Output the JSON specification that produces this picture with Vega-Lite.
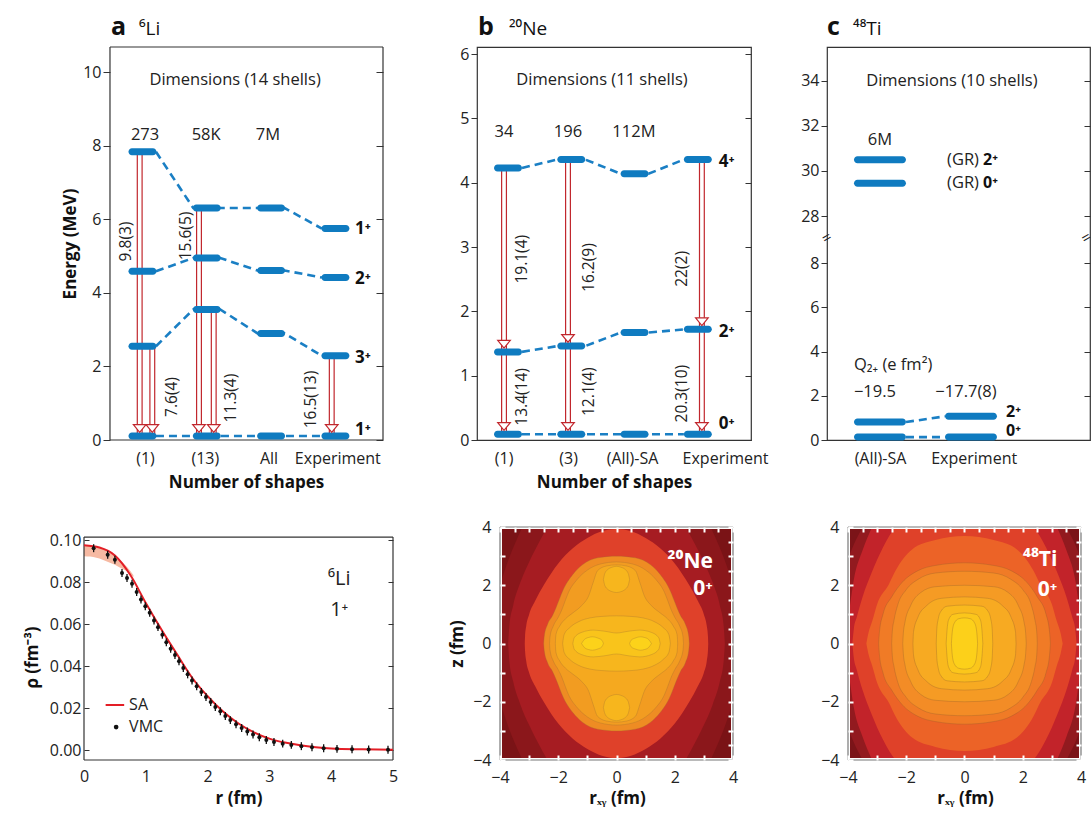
{
"$schema":"https://vega.github.io/schema/vega-lite/v6.json",
"background":"white",
"padding":{"left":23,"top":14,"right":0,"bottom":6},
"config":{"font":"Open Sans","view":{"stroke":null},"axis":{"labelFontSize":16,"labelColor":"#222","titleFontSize":17,"titleFontWeight":"bold","titleColor":"#111","grid":false,"domain":false,"tickColor":"#333","labelFlush":false,"labelOverlap":false}},
"datasets":{
"connA":[{"s":"u1","x":1.21,"y":7.84},{"s":"u1","x":1.79,"y":6.31},{"s":"u1","x":2.21,"y":6.31},{"s":"u1","x":2.79,"y":6.31},{"s":"u1","x":3.21,"y":6.31},{"s":"u1","x":3.79,"y":5.75},
{"s":"u2","x":1.21,"y":4.59},{"s":"u2","x":1.79,"y":4.95},{"s":"u2","x":2.21,"y":4.95},{"s":"u2","x":2.79,"y":4.61},{"s":"u2","x":3.21,"y":4.61},{"s":"u2","x":3.79,"y":4.42},
{"s":"u3","x":1.21,"y":2.55},{"s":"u3","x":1.79,"y":3.55},{"s":"u3","x":2.21,"y":3.55},{"s":"u3","x":2.79,"y":2.9},{"s":"u3","x":3.21,"y":2.9},{"s":"u3","x":3.79,"y":2.29},
{"s":"g","x":1.21,"y":0.11},{"s":"g","x":1.79,"y":0.11},{"s":"g","x":2.21,"y":0.11},{"s":"g","x":2.79,"y":0.11},{"s":"g","x":3.21,"y":0.11},{"s":"g","x":3.79,"y":0.11}],
"levA":[{"x":1,"y":7.84},{"x":2,"y":6.31},{"x":3,"y":6.31},{"x":4,"y":5.75},{"x":1,"y":4.59},{"x":2,"y":4.95},{"x":3,"y":4.61},{"x":4,"y":4.42},{"x":1,"y":2.55},{"x":2,"y":3.55},{"x":3,"y":2.9},{"x":4,"y":2.29},{"x":1,"y":0.11},{"x":2,"y":0.11},{"x":3,"y":0.11},{"x":4,"y":0.11}],
"arrA":[{"x":0.957,"y":7.84,"y2":0.11,"tip":0.21},{"x":1.153,"y":2.55,"y2":0.11,"tip":0.21},{"x":1.879,"y":6.31,"y2":0.11,"tip":0.21},{"x":2.108,"y":3.55,"y2":0.11,"tip":0.21},{"x":3.943,"y":2.29,"y2":0.11,"tip":0.21}],
"lblA":[{"x":0.739,"y":5.4,"t":"9.8(3)"},{"x":1.672,"y":5.55,"t":"15.6(5)"},{"x":1.459,"y":1.17,"t":"7.6(4)"},{"x":2.372,"y":1.14,"t":"11.3(4)"},{"x":3.621,"y":1.1,"t":"16.5(13)"}],
"txtA":[{"x":1.04,"y":8.3,"t":"273"},{"x":1.99,"y":8.3,"t":"58K"},{"x":2.95,"y":8.3,"t":"7M"},{"x":2.44,"y":9.8,"t":"Dimensions (14 shells)"}],
"stA":[{"x":4.305,"y":5.75,"t":"1⁺"},{"x":4.305,"y":4.38,"t":"2⁺"},{"x":4.305,"y":2.22,"t":"3⁺"},{"x":4.305,"y":0.27,"t":"1⁺"}],
"frameA":[{"x":0.495,"x2":0.495,"y":0,"y2":10.69},{"x":4.74,"x2":4.74,"y":0,"y2":10.69},{"x":0.495,"x2":4.74,"y":0,"y2":0},{"x":0.495,"x2":4.74,"y":10.69,"y2":10.69}],
"connB":[{"s":"u4","x":1.221,"y":4.23},{"s":"u4","x":1.779,"y":4.36},{"s":"u4","x":2.221,"y":4.36},{"s":"u4","x":2.779,"y":4.14},{"s":"u4","x":3.221,"y":4.14},{"s":"u4","x":3.779,"y":4.36},
{"s":"u2","x":1.221,"y":1.37},{"s":"u2","x":1.779,"y":1.46},{"s":"u2","x":2.221,"y":1.46},{"s":"u2","x":2.779,"y":1.67},{"s":"u2","x":3.221,"y":1.67},{"s":"u2","x":3.779,"y":1.72},
{"s":"g","x":1.221,"y":0.09},{"s":"g","x":1.779,"y":0.09},{"s":"g","x":2.221,"y":0.09},{"s":"g","x":2.779,"y":0.09},{"s":"g","x":3.221,"y":0.09},{"s":"g","x":3.779,"y":0.09}],
"levB":[{"x":1,"y":4.23},{"x":2,"y":4.36},{"x":3,"y":4.14},{"x":4,"y":4.36},{"x":1,"y":1.37},{"x":2,"y":1.46},{"x":3,"y":1.67},{"x":4,"y":1.72},{"x":1,"y":0.09},{"x":2,"y":0.09},{"x":3,"y":0.09},{"x":4,"y":0.09}],
"arrB":[{"x":0.937,"y":4.23,"y2":1.37,"tip":1.43},{"x":0.937,"y":1.37,"y2":0.09,"tip":0.15},{"x":1.948,"y":4.36,"y2":1.46,"tip":1.52},{"x":1.948,"y":1.46,"y2":0.09,"tip":0.15},{"x":4.064,"y":4.36,"y2":1.72,"tip":1.78},{"x":4.064,"y":1.72,"y2":0.09,"tip":0.15}],
"lblB":[{"x":1.221,"y":2.81,"t":"19.1(4)"},{"x":2.279,"y":2.68,"t":"16.2(9)"},{"x":3.749,"y":2.66,"t":"22(2)"},{"x":1.221,"y":0.67,"t":"13.4(14)"},{"x":2.279,"y":0.75,"t":"12.1(4)"},{"x":3.749,"y":0.72,"t":"20.3(10)"}],
"txtB":[{"x":0.937,"y":4.79,"t":"34"},{"x":1.948,"y":4.79,"t":"196"},{"x":2.99,"y":4.79,"t":"112M"},{"x":2.485,"y":5.6,"t":"Dimensions (11 shells)"}],
"stB":[{"x":4.33,"y":4.32,"t":"4⁺"},{"x":4.33,"y":1.68,"t":"2⁺"},{"x":4.33,"y":0.25,"t":"0⁺"}],
"connC":[{"s":"u","x":1.286,"y":0.81},{"s":"u","x":1.714,"y":1.07},{"s":"g","x":1.286,"y":0.13},{"s":"g","x":1.714,"y":0.13}],
"levC":[{"x":1,"y":30.5},{"x":1,"y":29.45},{"x":1,"y":0.81},{"x":1,"y":0.13},{"x":2,"y":1.07},{"x":2,"y":0.13}],
"txtC":[{"x":1,"y":31.38,"t":"6M"},{"x":1.79,"y":34,"t":"Dimensions (10 shells)"},{"x":0.945,"y":2.17,"t":"−19.5"},{"x":1.945,"y":2.17,"t":"−17.7(8)"}],
"regC":[{"x":1.737,"y":30.5,"t":"(GR)"},{"x":1.737,"y":29.45,"t":"(GR)"},{"x":0.715,"y":3.39,"t":"Q₂₊ (e fm²)"}],
"stC":[{"x":2.132,"y":30.5,"t":"2⁺"},{"x":2.132,"y":29.45,"t":"0⁺"},{"x":2.385,"y":1.27,"t":"2⁺"},{"x":2.385,"y":0.42,"t":"0⁺"}],
"band":[{"x":0,"y":0.0925,"y2":0.0978},{"x":0.1,"y":0.0923,"y2":0.0976},{"x":0.2,"y":0.0917,"y2":0.097},{"x":0.3,"y":0.0908,"y2":0.0959},{"x":0.4,"y":0.0896,"y2":0.0944},{"x":0.5,"y":0.0884,"y2":0.0926},{"x":0.6,"y":0.0868,"y2":0.0902},{"x":0.7,"y":0.0852,"y2":0.0872},{"x":0.8,"y":0.0826,"y2":0.0834}],
"sa":[{"x":0,"y":0.0977},{"x":0.25,"y":0.0966},{"x":0.5,"y":0.0928},{"x":0.75,"y":0.0835},{"x":1,"y":0.0702},{"x":1.25,"y":0.0577},{"x":1.5,"y":0.046},{"x":1.75,"y":0.0346},{"x":2,"y":0.0258},{"x":2.25,"y":0.0185},{"x":2.5,"y":0.0128},{"x":2.75,"y":0.0086},{"x":3,"y":0.0056},{"x":3.25,"y":0.0037},{"x":3.5,"y":0.0024},{"x":3.75,"y":0.0015},{"x":4,"y":0.0009},{"x":4.5,"y":0.0005},{"x":5,"y":0.0003}],
"vmc":[{"x":0.156,"y":0.0963,"e":0.0019},{"x":0.383,"y":0.0932,"e":0.0019},{"x":0.5,"y":0.0908,"e":0.0019},{"x":0.615,"y":0.0845,"e":0.0019},{"x":0.696,"y":0.0821,"e":0.0019},{"x":0.777,"y":0.0794,"e":0.0019},{"x":0.852,"y":0.0754,"e":0.0019},{"x":0.922,"y":0.0719,"e":0.0019},{"x":0.992,"y":0.0686,"e":0.0019},{"x":1.063,"y":0.0655,"e":0.0019},{"x":1.133,"y":0.0619,"e":0.0019},{"x":1.197,"y":0.0587,"e":0.0019},{"x":1.268,"y":0.0551,"e":0.0019},{"x":1.332,"y":0.0515,"e":0.0019},{"x":1.402,"y":0.0484,"e":0.0019},{"x":1.472,"y":0.0454,"e":0.0019},{"x":1.537,"y":0.0424,"e":0.0019},{"x":1.607,"y":0.0392,"e":0.0019},{"x":1.677,"y":0.0362,"e":0.0019},{"x":1.748,"y":0.0333,"e":0.0019},{"x":1.823,"y":0.0305,"e":0.0019},{"x":1.899,"y":0.0278,"e":0.0019},{"x":1.974,"y":0.0254,"e":0.0019},{"x":2.05,"y":0.023,"e":0.0019},{"x":2.125,"y":0.0207,"e":0.0019},{"x":2.206,"y":0.0186,"e":0.0019},{"x":2.287,"y":0.0164,"e":0.0019},{"x":2.368,"y":0.0144,"e":0.0019},{"x":2.46,"y":0.0124,"e":0.0019},{"x":2.551,"y":0.0106,"e":0.0019},{"x":2.643,"y":0.009,"e":0.0019},{"x":2.735,"y":0.0076,"e":0.0019},{"x":2.837,"y":0.0062,"e":0.0019},{"x":2.95,"y":0.0049,"e":0.0019},{"x":3.074,"y":0.004,"e":0.0019},{"x":3.215,"y":0.0032,"e":0.0019},{"x":3.355,"y":0.0026,"e":0.0019},{"x":3.517,"y":0.002,"e":0.0019},{"x":3.689,"y":0.0015,"e":0.0019},{"x":3.878,"y":0.001,"e":0.0019},{"x":4.094,"y":0.0007,"e":0.0019},{"x":4.337,"y":0.0005,"e":0.0019},{"x":4.606,"y":0.0004,"e":0.0019},{"x":4.919,"y":0.0003,"e":0.0019}],
"frameD":[{"x":0,"x2":0,"y":-0.0046,"y2":0.1016},{"x":5,"x2":5,"y":-0.0046,"y2":0.1016},{"x":0,"x2":5,"y":-0.0046,"y2":-0.0046},{"x":0,"x2":5,"y":0.1016,"y2":0.1016}],
"sq":[{"x":-4,"x2":4,"y":-4,"y2":4}],
"frameSq":[{"x":-4,"x2":-4,"y":-4,"y2":4},{"x":4,"x2":4,"y":-4,"y2":4},{"x":-4,"x2":4,"y":-4,"y2":-4},{"x":-4,"x2":4,"y":4,"y2":4}],
"contE":[
{"p":"a2","l":11,"x":-4,"y":2,"y2":-2},{"p":"a2","l":11,"x":-3.7,"y":2.9,"y2":-2.9},{"p":"a2","l":11,"x":-3.5,"y":3.4,"y2":-3.4},{"p":"a2","l":11,"x":-3.23,"y":4,"y2":-4},{"p":"a2","l":11,"x":-2.9,"y":4.6,"y2":-4.6},{"p":"a2","l":11,"x":-2.5,"y":5,"y2":-5},{"p":"a2","l":11,"x":0,"y":5.2,"y2":-5.2},{"p":"a2","l":11,"x":2.5,"y":5,"y2":-5},{"p":"a2","l":11,"x":2.9,"y":4.6,"y2":-4.6},{"p":"a2","l":11,"x":3.23,"y":4,"y2":-4},{"p":"a2","l":11,"x":3.5,"y":3.4,"y2":-3.4},{"p":"a2","l":11,"x":3.7,"y":2.9,"y2":-2.9},{"p":"a2","l":11,"x":4,"y":2,"y2":-2},
{"p":"a3","l":12,"x":-3.72,"y":0,"y2":0},{"p":"a3","l":12,"x":-3.68,"y":0.6,"y2":-0.6},{"p":"a3","l":12,"x":-3.55,"y":1.3,"y2":-1.3},{"p":"a3","l":12,"x":-3.3,"y":2.1,"y2":-2.1},{"p":"a3","l":12,"x":-3,"y":2.8,"y2":-2.8},{"p":"a3","l":12,"x":-2.7,"y":3.4,"y2":-3.4},{"p":"a3","l":12,"x":-2.37,"y":4,"y2":-4},{"p":"a3","l":12,"x":-2,"y":4.6,"y2":-4.6},{"p":"a3","l":12,"x":0,"y":5,"y2":-5},{"p":"a3","l":12,"x":2,"y":4.6,"y2":-4.6},{"p":"a3","l":12,"x":2.37,"y":4,"y2":-4},{"p":"a3","l":12,"x":2.7,"y":3.4,"y2":-3.4},{"p":"a3","l":12,"x":3,"y":2.8,"y2":-2.8},{"p":"a3","l":12,"x":3.3,"y":2.1,"y2":-2.1},{"p":"a3","l":12,"x":3.55,"y":1.3,"y2":-1.3},{"p":"a3","l":12,"x":3.68,"y":0.6,"y2":-0.6},{"p":"a3","l":12,"x":3.72,"y":0,"y2":0},
{"p":"a4","l":13,"x":-3.15,"y":0,"y2":0},{"p":"a4","l":13,"x":-3.14,"y":0.25,"y2":-0.25},{"p":"a4","l":13,"x":-3.1,"y":0.6,"y2":-0.6},{"p":"a4","l":13,"x":-3,"y":1,"y2":-1},{"p":"a4","l":13,"x":-2.8,"y":1.45,"y2":-1.45},{"p":"a4","l":13,"x":-2.5,"y":2,"y2":-2},{"p":"a4","l":13,"x":-2,"y":2.75,"y2":-2.75},{"p":"a4","l":13,"x":-1.5,"y":3.27,"y2":-3.27},{"p":"a4","l":13,"x":-1,"y":3.62,"y2":-3.62},{"p":"a4","l":13,"x":-0.5,"y":3.85,"y2":-3.85},{"p":"a4","l":13,"x":0,"y":3.93,"y2":-3.93},{"p":"a4","l":13,"x":0.5,"y":3.85,"y2":-3.85},{"p":"a4","l":13,"x":1,"y":3.62,"y2":-3.62},{"p":"a4","l":13,"x":1.5,"y":3.27,"y2":-3.27},{"p":"a4","l":13,"x":2,"y":2.75,"y2":-2.75},{"p":"a4","l":13,"x":2.5,"y":2,"y2":-2},{"p":"a4","l":13,"x":2.8,"y":1.45,"y2":-1.45},{"p":"a4","l":13,"x":3,"y":1,"y2":-1},{"p":"a4","l":13,"x":3.1,"y":0.6,"y2":-0.6},{"p":"a4","l":13,"x":3.14,"y":0.25,"y2":-0.25},{"p":"a4","l":13,"x":3.15,"y":0,"y2":0},
{"p":"a5","l":14,"x":-2.5,"y":0,"y2":0},{"p":"a5","l":14,"x":-2.48,"y":0.25,"y2":-0.25},{"p":"a5","l":14,"x":-2.37,"y":0.65,"y2":-0.65},{"p":"a5","l":14,"x":-2.2,"y":0.95,"y2":-0.95},{"p":"a5","l":14,"x":-2.08,"y":1.22,"y2":-1.22},{"p":"a5","l":14,"x":-1.95,"y":1.55,"y2":-1.55},{"p":"a5","l":14,"x":-1.85,"y":1.8,"y2":-1.8},{"p":"a5","l":14,"x":-1.5,"y":2.37,"y2":-2.37},{"p":"a5","l":14,"x":-1.16,"y":2.71,"y2":-2.71},{"p":"a5","l":14,"x":-0.65,"y":2.94,"y2":-2.94},{"p":"a5","l":14,"x":0,"y":3,"y2":-3},{"p":"a5","l":14,"x":0.65,"y":2.94,"y2":-2.94},{"p":"a5","l":14,"x":1.16,"y":2.71,"y2":-2.71},{"p":"a5","l":14,"x":1.5,"y":2.37,"y2":-2.37},{"p":"a5","l":14,"x":1.85,"y":1.8,"y2":-1.8},{"p":"a5","l":14,"x":1.95,"y":1.55,"y2":-1.55},{"p":"a5","l":14,"x":2.08,"y":1.22,"y2":-1.22},{"p":"a5","l":14,"x":2.2,"y":0.95,"y2":-0.95},{"p":"a5","l":14,"x":2.37,"y":0.65,"y2":-0.65},{"p":"a5","l":14,"x":2.48,"y":0.25,"y2":-0.25},{"p":"a5","l":14,"x":2.5,"y":0,"y2":0},
{"p":"a6","l":15,"x":-2.3,"y":0,"y2":0},{"p":"a6","l":15,"x":-2.28,"y":0.25,"y2":-0.25},{"p":"a6","l":15,"x":-2.17,"y":0.6,"y2":-0.6},{"p":"a6","l":15,"x":-2,"y":0.9,"y2":-0.9},{"p":"a6","l":15,"x":-1.88,"y":1.15,"y2":-1.15},{"p":"a6","l":15,"x":-1.75,"y":1.5,"y2":-1.5},{"p":"a6","l":15,"x":-1.65,"y":1.75,"y2":-1.75},{"p":"a6","l":15,"x":-1.35,"y":2.2,"y2":-2.2},{"p":"a6","l":15,"x":-1,"y":2.52,"y2":-2.52},{"p":"a6","l":15,"x":-0.55,"y":2.73,"y2":-2.73},{"p":"a6","l":15,"x":0,"y":2.8,"y2":-2.8},{"p":"a6","l":15,"x":0.55,"y":2.73,"y2":-2.73},{"p":"a6","l":15,"x":1,"y":2.52,"y2":-2.52},{"p":"a6","l":15,"x":1.35,"y":2.2,"y2":-2.2},{"p":"a6","l":15,"x":1.65,"y":1.75,"y2":-1.75},{"p":"a6","l":15,"x":1.75,"y":1.5,"y2":-1.5},{"p":"a6","l":15,"x":1.88,"y":1.15,"y2":-1.15},{"p":"a6","l":15,"x":2,"y":0.9,"y2":-0.9},{"p":"a6","l":15,"x":2.17,"y":0.6,"y2":-0.6},{"p":"a6","l":15,"x":2.28,"y":0.25,"y2":-0.25},{"p":"a6","l":15,"x":2.3,"y":0,"y2":0},
{"p":"a7","l":16,"x":-2.1,"y":0,"y2":0},{"p":"a7","l":16,"x":-2.08,"y":0.3,"y2":-0.3},{"p":"a7","l":16,"x":-1.95,"y":0.6,"y2":-0.6},{"p":"a7","l":16,"x":-1.75,"y":0.85,"y2":-0.85},{"p":"a7","l":16,"x":-1.5,"y":1.05,"y2":-1.05},{"p":"a7","l":16,"x":-1.2,"y":1.3,"y2":-1.3},{"p":"a7","l":16,"x":-0.95,"y":1.65,"y2":-1.65},{"p":"a7","l":16,"x":-0.8,"y":2.1,"y2":-2.1},{"p":"a7","l":16,"x":-0.65,"y":2.5,"y2":-2.5},{"p":"a7","l":16,"x":-0.35,"y":2.66,"y2":-2.66},{"p":"a7","l":16,"x":0,"y":2.7,"y2":-2.7},{"p":"a7","l":16,"x":0.35,"y":2.66,"y2":-2.66},{"p":"a7","l":16,"x":0.65,"y":2.5,"y2":-2.5},{"p":"a7","l":16,"x":0.8,"y":2.1,"y2":-2.1},{"p":"a7","l":16,"x":0.95,"y":1.65,"y2":-1.65},{"p":"a7","l":16,"x":1.2,"y":1.3,"y2":-1.3},{"p":"a7","l":16,"x":1.5,"y":1.05,"y2":-1.05},{"p":"a7","l":16,"x":1.75,"y":0.85,"y2":-0.85},{"p":"a7","l":16,"x":1.95,"y":0.6,"y2":-0.6},{"p":"a7","l":16,"x":2.08,"y":0.3,"y2":-0.3},{"p":"a7","l":16,"x":2.1,"y":0,"y2":0},
{"p":"a8","l":17,"x":-1.85,"y":0,"y2":0},{"p":"a8","l":17,"x":-1.8,"y":0.3,"y2":-0.3},{"p":"a8","l":17,"x":-1.6,"y":0.55,"y2":-0.55},{"p":"a8","l":17,"x":-1.3,"y":0.75,"y2":-0.75},{"p":"a8","l":17,"x":-0.9,"y":0.88,"y2":-0.88},{"p":"a8","l":17,"x":-0.5,"y":0.93,"y2":-0.93},{"p":"a8","l":17,"x":0,"y":0.95,"y2":-0.95},{"p":"a8","l":17,"x":0.5,"y":0.93,"y2":-0.93},{"p":"a8","l":17,"x":0.9,"y":0.88,"y2":-0.88},{"p":"a8","l":17,"x":1.3,"y":0.75,"y2":-0.75},{"p":"a8","l":17,"x":1.6,"y":0.55,"y2":-0.55},{"p":"a8","l":17,"x":1.8,"y":0.3,"y2":-0.3},{"p":"a8","l":17,"x":1.85,"y":0,"y2":0},
{"p":"a8t","l":17,"x":-0.45,"y":2.2,"y2":2.2},{"p":"a8t","l":17,"x":-0.4,"y":2.41,"y2":1.99},{"p":"a8t","l":17,"x":-0.3,"y":2.54,"y2":1.86},{"p":"a8t","l":17,"x":-0.15,"y":2.62,"y2":1.78},{"p":"a8t","l":17,"x":0,"y":2.65,"y2":1.75},{"p":"a8t","l":17,"x":0.15,"y":2.62,"y2":1.78},{"p":"a8t","l":17,"x":0.3,"y":2.54,"y2":1.86},{"p":"a8t","l":17,"x":0.4,"y":2.41,"y2":1.99},{"p":"a8t","l":17,"x":0.45,"y":2.2,"y2":2.2},
{"p":"a8b","l":17,"x":-0.45,"y":-2.2,"y2":-2.2},{"p":"a8b","l":17,"x":-0.4,"y":-1.99,"y2":-2.41},{"p":"a8b","l":17,"x":-0.3,"y":-1.86,"y2":-2.54},{"p":"a8b","l":17,"x":-0.15,"y":-1.78,"y2":-2.62},{"p":"a8b","l":17,"x":0,"y":-1.75,"y2":-2.65},{"p":"a8b","l":17,"x":0.15,"y":-1.78,"y2":-2.62},{"p":"a8b","l":17,"x":0.3,"y":-1.86,"y2":-2.54},{"p":"a8b","l":17,"x":0.4,"y":-1.99,"y2":-2.41},{"p":"a8b","l":17,"x":0.45,"y":-2.2,"y2":-2.2},
{"p":"a9","l":18,"x":-1.5,"y":0,"y2":0},{"p":"a9","l":18,"x":-1.45,"y":0.2,"y2":-0.2},{"p":"a9","l":18,"x":-1.2,"y":0.38,"y2":-0.38},{"p":"a9","l":18,"x":-0.8,"y":0.46,"y2":-0.46},{"p":"a9","l":18,"x":-0.4,"y":0.42,"y2":-0.42},{"p":"a9","l":18,"x":0,"y":0.36,"y2":-0.36},{"p":"a9","l":18,"x":0.4,"y":0.42,"y2":-0.42},{"p":"a9","l":18,"x":0.8,"y":0.46,"y2":-0.46},{"p":"a9","l":18,"x":1.2,"y":0.38,"y2":-0.38},{"p":"a9","l":18,"x":1.45,"y":0.2,"y2":-0.2},{"p":"a9","l":18,"x":1.5,"y":0,"y2":0},
{"p":"a10l","l":19,"x":-1.2,"y":0,"y2":0},{"p":"a10l","l":19,"x":-1.1,"y":0.14,"y2":-0.14},{"p":"a10l","l":19,"x":-0.95,"y":0.21,"y2":-0.21},{"p":"a10l","l":19,"x":-0.82,"y":0.23,"y2":-0.23},{"p":"a10l","l":19,"x":-0.65,"y":0.19,"y2":-0.19},{"p":"a10l","l":19,"x":-0.5,"y":0.11,"y2":-0.11},{"p":"a10l","l":19,"x":-0.45,"y":0,"y2":0},
{"p":"a10r","l":19,"x":0.45,"y":0,"y2":0},{"p":"a10r","l":19,"x":0.5,"y":0.11,"y2":-0.11},{"p":"a10r","l":19,"x":0.65,"y":0.19,"y2":-0.19},{"p":"a10r","l":19,"x":0.82,"y":0.23,"y2":-0.23},{"p":"a10r","l":19,"x":0.95,"y":0.21,"y2":-0.21},{"p":"a10r","l":19,"x":1.1,"y":0.14,"y2":-0.14},{"p":"a10r","l":19,"x":1.2,"y":0,"y2":0}
],
"contF":[
{"p":"b2","l":11,"x":-4,"y":2.9,"y2":-2.9},{"p":"b2","l":11,"x":-3.8,"y":3.4,"y2":-3.4},{"p":"b2","l":11,"x":-3.5,"y":4,"y2":-4},{"p":"b2","l":11,"x":-3.2,"y":4.6,"y2":-4.6},{"p":"b2","l":11,"x":0,"y":5,"y2":-5},{"p":"b2","l":11,"x":3.2,"y":4.6,"y2":-4.6},{"p":"b2","l":11,"x":3.5,"y":4,"y2":-4},{"p":"b2","l":11,"x":3.8,"y":3.4,"y2":-3.4},{"p":"b2","l":11,"x":4,"y":2.9,"y2":-2.9},
{"p":"b3","l":12,"x":-4,"y":0.9,"y2":-0.9},{"p":"b3","l":12,"x":-3.95,"y":1.2,"y2":-1.2},{"p":"b3","l":12,"x":-3.8,"y":2.2,"y2":-2.2},{"p":"b3","l":12,"x":-3.5,"y":3.2,"y2":-3.2},{"p":"b3","l":12,"x":-3.17,"y":4,"y2":-4},{"p":"b3","l":12,"x":-2.5,"y":5,"y2":-5},{"p":"b3","l":12,"x":0,"y":5.5,"y2":-5.5},{"p":"b3","l":12,"x":2.5,"y":5,"y2":-5},{"p":"b3","l":12,"x":3.17,"y":4,"y2":-4},{"p":"b3","l":12,"x":3.5,"y":3.2,"y2":-3.2},{"p":"b3","l":12,"x":3.8,"y":2.2,"y2":-2.2},{"p":"b3","l":12,"x":3.95,"y":1.2,"y2":-1.2},{"p":"b3","l":12,"x":4,"y":0.9,"y2":-0.9},
{"p":"b4","l":13,"x":-3.85,"y":0,"y2":0},{"p":"b4","l":13,"x":-3.8,"y":0.5,"y2":-0.5},{"p":"b4","l":13,"x":-3.7,"y":0.9,"y2":-0.9},{"p":"b4","l":13,"x":-3.5,"y":1.6,"y2":-1.6},{"p":"b4","l":13,"x":-3.2,"y":2.4,"y2":-2.4},{"p":"b4","l":13,"x":-2.8,"y":3.3,"y2":-3.3},{"p":"b4","l":13,"x":-2.37,"y":4,"y2":-4},{"p":"b4","l":13,"x":-2,"y":4.3,"y2":-4.3},{"p":"b4","l":13,"x":0,"y":4.7,"y2":-4.7},{"p":"b4","l":13,"x":2,"y":4.3,"y2":-4.3},{"p":"b4","l":13,"x":2.37,"y":4,"y2":-4},{"p":"b4","l":13,"x":2.8,"y":3.3,"y2":-3.3},{"p":"b4","l":13,"x":3.2,"y":2.4,"y2":-2.4},{"p":"b4","l":13,"x":3.5,"y":1.6,"y2":-1.6},{"p":"b4","l":13,"x":3.7,"y":0.9,"y2":-0.9},{"p":"b4","l":13,"x":3.8,"y":0.5,"y2":-0.5},{"p":"b4","l":13,"x":3.85,"y":0,"y2":0},
{"p":"b5","l":14,"x":-3.37,"y":0,"y2":0},{"p":"b5","l":14,"x":-3.3,"y":0.35,"y2":-0.35},{"p":"b5","l":14,"x":-3.17,"y":0.76,"y2":-0.76},{"p":"b5","l":14,"x":-3,"y":1.35,"y2":-1.35},{"p":"b5","l":14,"x":-2.6,"y":2.03,"y2":-2.03},{"p":"b5","l":14,"x":-2.37,"y":2.5,"y2":-2.5},{"p":"b5","l":14,"x":-1.8,"y":3.23,"y2":-3.23},{"p":"b5","l":14,"x":-1,"y":3.55,"y2":-3.55},{"p":"b5","l":14,"x":0,"y":3.69,"y2":-3.69},{"p":"b5","l":14,"x":1,"y":3.55,"y2":-3.55},{"p":"b5","l":14,"x":1.8,"y":3.23,"y2":-3.23},{"p":"b5","l":14,"x":2.37,"y":2.5,"y2":-2.5},{"p":"b5","l":14,"x":2.6,"y":2.03,"y2":-2.03},{"p":"b5","l":14,"x":3,"y":1.35,"y2":-1.35},{"p":"b5","l":14,"x":3.17,"y":0.76,"y2":-0.76},{"p":"b5","l":14,"x":3.3,"y":0.35,"y2":-0.35},{"p":"b5","l":14,"x":3.37,"y":0,"y2":0},
{"p":"b6","l":15,"x":-2.95,"y":0,"y2":0},{"p":"b6","l":15,"x":-2.92,"y":0.4,"y2":-0.4},{"p":"b6","l":15,"x":-2.8,"y":1,"y2":-1},{"p":"b6","l":15,"x":-2.5,"y":1.6,"y2":-1.6},{"p":"b6","l":15,"x":-2.14,"y":2.1,"y2":-2.1},{"p":"b6","l":15,"x":-1.6,"y":2.5,"y2":-2.5},{"p":"b6","l":15,"x":-1,"y":2.68,"y2":-2.68},{"p":"b6","l":15,"x":0,"y":2.77,"y2":-2.77},{"p":"b6","l":15,"x":1,"y":2.68,"y2":-2.68},{"p":"b6","l":15,"x":1.6,"y":2.5,"y2":-2.5},{"p":"b6","l":15,"x":2.14,"y":2.1,"y2":-2.1},{"p":"b6","l":15,"x":2.5,"y":1.6,"y2":-1.6},{"p":"b6","l":15,"x":2.8,"y":1,"y2":-1},{"p":"b6","l":15,"x":2.92,"y":0.4,"y2":-0.4},{"p":"b6","l":15,"x":2.95,"y":0,"y2":0},
{"p":"b7","l":16,"x":-2.5,"y":0,"y2":0},{"p":"b7","l":16,"x":-2.48,"y":0.4,"y2":-0.4},{"p":"b7","l":16,"x":-2.42,"y":0.8,"y2":-0.8},{"p":"b7","l":16,"x":-2.3,"y":1.3,"y2":-1.3},{"p":"b7","l":16,"x":-2,"y":1.85,"y2":-1.85},{"p":"b7","l":16,"x":-1.6,"y":2.2,"y2":-2.2},{"p":"b7","l":16,"x":-1,"y":2.42,"y2":-2.42},{"p":"b7","l":16,"x":0,"y":2.48,"y2":-2.48},{"p":"b7","l":16,"x":1,"y":2.42,"y2":-2.42},{"p":"b7","l":16,"x":1.6,"y":2.2,"y2":-2.2},{"p":"b7","l":16,"x":2,"y":1.85,"y2":-1.85},{"p":"b7","l":16,"x":2.3,"y":1.3,"y2":-1.3},{"p":"b7","l":16,"x":2.42,"y":0.8,"y2":-0.8},{"p":"b7","l":16,"x":2.48,"y":0.4,"y2":-0.4},{"p":"b7","l":16,"x":2.5,"y":0,"y2":0},
{"p":"b8","l":17,"x":-2.12,"y":0,"y2":0},{"p":"b8","l":17,"x":-2.1,"y":0.35,"y2":-0.35},{"p":"b8","l":17,"x":-2.05,"y":0.7,"y2":-0.7},{"p":"b8","l":17,"x":-1.85,"y":1.3,"y2":-1.3},{"p":"b8","l":17,"x":-1.5,"y":1.75,"y2":-1.75},{"p":"b8","l":17,"x":-1,"y":1.95,"y2":-1.95},{"p":"b8","l":17,"x":0,"y":2,"y2":-2},{"p":"b8","l":17,"x":1,"y":1.95,"y2":-1.95},{"p":"b8","l":17,"x":1.5,"y":1.75,"y2":-1.75},{"p":"b8","l":17,"x":1.85,"y":1.3,"y2":-1.3},{"p":"b8","l":17,"x":2.05,"y":0.7,"y2":-0.7},{"p":"b8","l":17,"x":2.1,"y":0.35,"y2":-0.35},{"p":"b8","l":17,"x":2.12,"y":0,"y2":0},
{"p":"b9","l":18,"x":-1.77,"y":0,"y2":0},{"p":"b9","l":18,"x":-1.75,"y":0.4,"y2":-0.4},{"p":"b9","l":18,"x":-1.6,"y":0.9,"y2":-0.9},{"p":"b9","l":18,"x":-1.3,"y":1.3,"y2":-1.3},{"p":"b9","l":18,"x":-0.8,"y":1.55,"y2":-1.55},{"p":"b9","l":18,"x":0,"y":1.6,"y2":-1.6},{"p":"b9","l":18,"x":0.8,"y":1.55,"y2":-1.55},{"p":"b9","l":18,"x":1.3,"y":1.3,"y2":-1.3},{"p":"b9","l":18,"x":1.6,"y":0.9,"y2":-0.9},{"p":"b9","l":18,"x":1.75,"y":0.4,"y2":-0.4},{"p":"b9","l":18,"x":1.77,"y":0,"y2":0},
{"p":"b10","l":19,"x":-0.97,"y":0,"y2":0},{"p":"b10","l":19,"x":-0.95,"y":0.5,"y2":-0.5},{"p":"b10","l":19,"x":-0.9,"y":0.85,"y2":-0.85},{"p":"b10","l":19,"x":-0.8,"y":1.12,"y2":-1.12},{"p":"b10","l":19,"x":-0.6,"y":1.28,"y2":-1.28},{"p":"b10","l":19,"x":0,"y":1.32,"y2":-1.32},{"p":"b10","l":19,"x":0.6,"y":1.28,"y2":-1.28},{"p":"b10","l":19,"x":0.8,"y":1.12,"y2":-1.12},{"p":"b10","l":19,"x":0.9,"y":0.85,"y2":-0.85},{"p":"b10","l":19,"x":0.95,"y":0.5,"y2":-0.5},{"p":"b10","l":19,"x":0.97,"y":0,"y2":0},
{"p":"b11","l":20,"x":-0.63,"y":0,"y2":0},{"p":"b11","l":20,"x":-0.6,"y":0.45,"y2":-0.45},{"p":"b11","l":20,"x":-0.55,"y":0.8,"y2":-0.8},{"p":"b11","l":20,"x":-0.4,"y":1,"y2":-1},{"p":"b11","l":20,"x":0,"y":1.05,"y2":-1.05},{"p":"b11","l":20,"x":0.4,"y":1,"y2":-1},{"p":"b11","l":20,"x":0.55,"y":0.8,"y2":-0.8},{"p":"b11","l":20,"x":0.6,"y":0.45,"y2":-0.45},{"p":"b11","l":20,"x":0.63,"y":0,"y2":0},
{"p":"b12","l":21,"x":-0.45,"y":0,"y2":0},{"p":"b12","l":21,"x":-0.42,"y":0.4,"y2":-0.4},{"p":"b12","l":21,"x":-0.35,"y":0.7,"y2":-0.7},{"p":"b12","l":21,"x":-0.2,"y":0.85,"y2":-0.85},{"p":"b12","l":21,"x":0,"y":0.88,"y2":-0.88},{"p":"b12","l":21,"x":0.2,"y":0.85,"y2":-0.85},{"p":"b12","l":21,"x":0.35,"y":0.7,"y2":-0.7},{"p":"b12","l":21,"x":0.42,"y":0.4,"y2":-0.4},{"p":"b12","l":21,"x":0.45,"y":0,"y2":0}
]
},
"columns":5,
"spacing":{"row":87,"column":0},
"bounds":"flush",
"resolve":{"scale":{"color":"independent","strokeOpacity":"independent"}},
"concat":[
 {"width":299,"height":393,
  "resolve":{"axis":{"x":"independent","y":"independent"}},
  "encoding":{"x":{"field":"x","type":"quantitative","scale":{"domain":[0.091,4.74],"nice":false,"zero":false},"axis":null},
              "y":{"field":"y","type":"quantitative","scale":{"domain":[0,10.69],"nice":false,"zero":false},"axis":null}},
  "layer":[
   {"data":{"name":"frameA"},"mark":{"type":"rule","color":"#333","strokeWidth":1.2},"encoding":{"x2":{"field":"x2"},"y2":{"field":"y2"}}},
   {"data":{"name":"connA"},"mark":{"type":"line","color":"#1a7fc4","strokeWidth":2.6,"strokeDash":[8,5]},
    "encoding":{"detail":{"field":"s"},
     "x":{"field":"x","type":"quantitative","scale":{"domain":[0.091,4.74],"nice":false,"zero":false},"axis":{"orient":"bottom","values":[1.04,1.97,2.96,4.03],"labelExpr":"datum.value < 1.5 ? '(1)' : datum.value < 2.5 ? '(13)' : datum.value < 3.5 ? 'All' : 'Experiment'","ticks":false,"labelPadding":10,"title":"Number of shapes","titlePadding":8,"titleX":162}},
     "y":{"field":"y","type":"quantitative","scale":{"domain":[0,10.69],"nice":false,"zero":false},"axis":{"orient":"left","offset":-26,"values":[0,2,4,6,8,10],"tickSize":7,"labelPadding":2,"title":"Energy (MeV)","titlePadding":3}}}},
   {"data":{"name":"arrA"},"mark":{"type":"rule","color":"#c1272d","strokeWidth":6},"encoding":{"y2":{"field":"y2"}}},
   {"data":{"name":"arrA"},"mark":{"type":"rule","color":"white","strokeWidth":3.6},"encoding":{"y2":{"field":"y2"}}},
   {"data":{"name":"levA"},"mark":{"type":"tick","orient":"horizontal","size":28,"thickness":7,"cornerRadius":3.5,"color":"#0f7bc0","opacity":1}},
   {"data":{"name":"arrA"},"mark":{"type":"point","shape":"M-0.9,-1.1L0.9,-1.1L0,0Z","size":196,"filled":true,"fill":"white","stroke":"#c1272d","strokeWidth":1.2,"opacity":1},
    "encoding":{"y":{"field":"tip","type":"quantitative","scale":{"domain":[0,10.69],"nice":false,"zero":false},"axis":null}}},
   {"data":{"name":"lblA"},"mark":{"type":"text","angle":270,"fontSize":15.5,"color":"#222"},"encoding":{"text":{"field":"t"}}},
   {"data":{"name":"txtA"},"mark":{"type":"text","fontSize":16.5,"color":"#222"},"encoding":{"text":{"field":"t"}}},
   {"data":{"name":"stA"},"mark":{"type":"text","fontSize":17,"fontWeight":"bold","align":"left","color":"#111"},
    "encoding":{"text":{"field":"t"},"y":{"field":"y","type":"quantitative","scale":{"domain":[0,10.69],"nice":false,"zero":false},"axis":{"orient":"right","labels":false,"tickSize":-7,"values":[0,2,4,6,8,10],"title":null}}}},
   {"data":{"values":[{"x":0.51,"y":11.02,"t":"a"}]},"mark":{"type":"text","fontSize":25,"fontWeight":"bold","align":"left","baseline":"alphabetic","color":"#111"},"encoding":{"text":{"field":"t"}}},
   {"data":{"values":[{"x":0.946,"y":11.02,"t":"⁶Li"}]},"mark":{"type":"text","fontSize":19,"align":"left","baseline":"alphabetic","color":"#111"},"encoding":{"text":{"field":"t"}}}
  ]},
 {"width":84,"height":393,"data":{"values":[{"t":""}]},"mark":{"type":"text"},"encoding":{"text":{"field":"t"}}},
 {"width":274,"height":393,
  "view":{"stroke":"#333","strokeWidth":1.2},
  "resolve":{"axis":{"x":"independent","y":"independent"}},
  "encoding":{"x":{"field":"x","type":"quantitative","scale":{"domain":[0.51,4.84],"nice":false,"zero":false},"axis":null},
              "y":{"field":"y","type":"quantitative","scale":{"domain":[0,6.11],"nice":false,"zero":false},"axis":null}},
  "layer":[
   {"data":{"name":"connB"},"mark":{"type":"line","color":"#1a7fc4","strokeWidth":2.6,"strokeDash":[8,5]},
    "encoding":{"detail":{"field":"s"},
     "x":{"field":"x","type":"quantitative","scale":{"domain":[0.51,4.84],"nice":false,"zero":false},"axis":{"orient":"bottom","values":[0.93,1.95,2.96,4.43],"labelExpr":"datum.value < 1.5 ? '(1)' : datum.value < 2.5 ? '(3)' : datum.value < 3.5 ? '(All)-SA' : 'Experiment'","ticks":false,"labelPadding":10,"title":"Number of shapes","titlePadding":8}},
     "y":{"field":"y","type":"quantitative","scale":{"domain":[0,6.11],"nice":false,"zero":false},"axis":{"orient":"left","values":[0,1,2,3,4,5,6],"tickSize":6,"labelPadding":2,"title":null}}}},
   {"data":{"name":"arrB"},"mark":{"type":"rule","color":"#c1272d","strokeWidth":6},"encoding":{"y2":{"field":"y2"}}},
   {"data":{"name":"arrB"},"mark":{"type":"rule","color":"white","strokeWidth":3.6},"encoding":{"y2":{"field":"y2"}}},
   {"data":{"name":"levB"},"mark":{"type":"tick","orient":"horizontal","size":28,"thickness":7,"cornerRadius":3.5,"color":"#0f7bc0","opacity":1}},
   {"data":{"name":"arrB"},"mark":{"type":"point","shape":"M-0.9,-1.1L0.9,-1.1L0,0Z","size":196,"filled":true,"fill":"white","stroke":"#c1272d","strokeWidth":1.2,"opacity":1},
    "encoding":{"y":{"field":"tip","type":"quantitative","scale":{"domain":[0,6.11],"nice":false,"zero":false},"axis":null}}},
   {"data":{"name":"lblB"},"mark":{"type":"text","angle":270,"fontSize":15.5,"color":"#222"},"encoding":{"text":{"field":"t"}}},
   {"data":{"name":"txtB"},"mark":{"type":"text","fontSize":16.5,"color":"#222"},"encoding":{"text":{"field":"t"}}},
   {"data":{"name":"stB"},"mark":{"type":"text","fontSize":17,"fontWeight":"bold","align":"left","color":"#111"},
    "encoding":{"text":{"field":"t"},"y":{"field":"y","type":"quantitative","scale":{"domain":[0,6.11],"nice":false,"zero":false},"axis":{"orient":"right","labels":false,"tickSize":-6,"values":[0,1,2,3,4,5,6],"title":null}}}},
   {"data":{"values":[{"x":0.526,"y":6.3,"t":"b"}]},"mark":{"type":"text","fontSize":25,"fontWeight":"bold","align":"left","baseline":"alphabetic","color":"#111"},"encoding":{"text":{"field":"t"}}},
   {"data":{"values":[{"x":1.016,"y":6.3,"t":"²⁰Ne"}]},"mark":{"type":"text","fontSize":19,"align":"left","baseline":"alphabetic","color":"#111"},"encoding":{"text":{"field":"t"}}}
  ]},
 {"width":76,"height":393,"data":{"values":[{"t":""}]},"mark":{"type":"text"},"encoding":{"text":{"field":"t"}}},
 {"width":263,"height":393,
  "view":{"stroke":"#333","strokeWidth":1.2},
  "resolve":{"axis":{"x":"independent","y":"independent"}},
  "encoding":{"x":{"field":"x","type":"quantitative","scale":{"domain":[0.418,3.308],"nice":false,"zero":false},"axis":null},
              "y":{"field":"y","type":"quantitative","scale":{"domain":[0,8,28,35.5],"range":[393,216,169,0],"nice":false,"zero":false},"axis":null}},
  "layer":[
   {"data":{"name":"connC"},"mark":{"type":"line","color":"#1a7fc4","strokeWidth":2.6,"strokeDash":[8,5]},
    "encoding":{"detail":{"field":"s"},
     "x":{"field":"x","type":"quantitative","scale":{"domain":[0.418,3.308],"nice":false,"zero":false},"axis":{"orient":"bottom","values":[1,2.03],"labelExpr":"datum.value < 1.5 ? '(All)-SA' : 'Experiment'","ticks":false,"labelPadding":10,"title":null}},
     "y":{"field":"y","type":"quantitative","scale":{"domain":[0,8,28,35.5],"range":[393,216,169,0],"nice":false,"zero":false},"axis":{"orient":"left","values":[0,2,4,6,8,28,30,32,34],"tickSize":6,"labelPadding":2,"title":null}}}},
   {"data":{"name":"levC"},"mark":{"type":"tick","orient":"horizontal","size":52,"thickness":7,"cornerRadius":3.5,"color":"#0f7bc0","opacity":1}},
   {"data":{"name":"txtC"},"mark":{"type":"text","fontSize":16.5,"color":"#222"},"encoding":{"text":{"field":"t"}}},
   {"data":{"name":"regC"},"mark":{"type":"text","fontSize":16.5,"align":"left","color":"#222"},"encoding":{"text":{"field":"t"}}},
   {"data":{"values":[{"x":0.418,"y":18.6,"t":"="},{"x":3.27,"y":18.6,"t":"="}]},"mark":{"type":"text","fontSize":16,"angle":330,"color":"#222"},"encoding":{"text":{"field":"t"}}},
   {"data":{"name":"stC"},"mark":{"type":"text","fontSize":16,"fontWeight":"bold","align":"left","color":"#111"},
    "encoding":{"text":{"field":"t"},"y":{"field":"y","type":"quantitative","scale":{"domain":[0,8,28,35.5],"range":[393,216,169,0],"nice":false,"zero":false},"axis":{"orient":"right","labels":false,"tickSize":-6,"values":[0,2,4,6,8,28,30,32,34],"title":null}}}},
   {"data":{"values":[{"x":0.418,"y":36.03,"t":"c"}]},"mark":{"type":"text","fontSize":25,"fontWeight":"bold","align":"left","baseline":"alphabetic","color":"#111"},"encoding":{"text":{"field":"t"}}},
   {"data":{"values":[{"x":0.704,"y":36.03,"t":"⁴⁸Ti"}]},"mark":{"type":"text","fontSize":19,"align":"left","baseline":"alphabetic","color":"#111"},"encoding":{"text":{"field":"t"}}}
  ]},
 {"width":309,"height":233,
  "resolve":{"axis":{"x":"independent","y":"independent"}},
  "encoding":{"x":{"field":"x","type":"quantitative","scale":{"domain":[0,5],"nice":false,"zero":false},"axis":null},
              "y":{"field":"y","type":"quantitative","scale":{"domain":[-0.0046,0.1064],"nice":false,"zero":false},"axis":null}},
  "layer":[
   {"data":{"name":"band"},"mark":{"type":"area","color":"#f6b9a2","opacity":1,"interpolate":"monotone"},
    "encoding":{"y2":{"field":"y2"},
     "x":{"field":"x","type":"quantitative","scale":{"domain":[0,5],"nice":false,"zero":false},"axis":{"orient":"bottom","values":[0,1,2,3,4,5],"ticks":false,"labelPadding":8,"title":"r (fm)","titlePadding":6}},
     "y":{"field":"y","type":"quantitative","scale":{"domain":[-0.0046,0.1064],"nice":false,"zero":false},"axis":{"orient":"left","values":[0,0.02,0.04,0.06,0.08,0.1],"format":".2f","tickSize":-5,"labelPadding":8,"title":"ρ (fm⁻³)","titlePadding":8,"titleY":130,"zindex":1}}}},
   {"data":{"name":"frameD"},"mark":{"type":"rule","color":"#333","strokeWidth":1.2},"encoding":{"x2":{"field":"x2"},"y2":{"field":"y2"}}},
   {"data":{"name":"sa"},"mark":{"type":"line","color":"#e31e26","strokeWidth":2,"interpolate":"monotone"}},
   {"data":{"name":"vmc"},"mark":{"type":"errorbar","color":"#111","thickness":1.3},"encoding":{"yError":{"field":"e"}}},
   {"data":{"name":"vmc"},"mark":{"type":"point","filled":true,"color":"#111","size":16,"opacity":1}},
   {"data":{"values":[{"x":0.35,"x2":0.65,"y":0.0216}]},"mark":{"type":"rule","color":"#e31e26","strokeWidth":2},"encoding":{"x2":{"field":"x2"}}},
   {"data":{"values":[{"x":0.52,"y":0.0111}]},"mark":{"type":"point","filled":true,"color":"#111","size":22,"opacity":1}},
   {"data":{"values":[{"x":0.73,"y":0.0216,"t":"SA"},{"x":0.73,"y":0.0111,"t":"VMC"}]},"mark":{"type":"text","align":"left","fontSize":16,"color":"#222"},"encoding":{"text":{"field":"t"}}},
   {"data":{"values":[{"x":4.13,"y":0.0816,"t":"⁶Li"},{"x":4.13,"y":0.0668,"t":"1⁺"}]},"mark":{"type":"text","fontSize":20,"color":"#222"},
    "encoding":{"text":{"field":"t"},"y":{"field":"y","type":"quantitative","scale":{"domain":[-0.0046,0.1064],"nice":false,"zero":false},"axis":{"orient":"right","labels":false,"tickSize":-5,"values":[0,0.02,0.04,0.06,0.08,0.1],"title":null}}}}
  ]},
 {"width":84,"height":1,"data":{"values":[{"t":""}]},"mark":{"type":"text"},"encoding":{"text":{"field":"t"}}},
 {"width":256,"height":233,
  "resolve":{"axis":{"x":"independent","y":"independent"}},
  "encoding":{"x":{"field":"x","type":"quantitative","scale":{"domain":[-4.79,4],"nice":false,"zero":false},"axis":null},
              "y":{"field":"y","type":"quantitative","scale":{"domain":[-4,4],"nice":false,"zero":false},"axis":null}},
  "layer":[
   {"data":{"name":"sq"},"mark":{"type":"rect","color":"#7a1316","opacity":1},"encoding":{"x2":{"field":"x2"},"y2":{"field":"y2"}}},
   {"data":{"name":"contE"},"mark":{"type":"area","clip":true,"interpolate":"monotone","stroke":"#9a6a34","strokeWidth":0.6,"opacity":1},
    "encoding":{
     "x":{"field":"x","type":"quantitative","scale":{"domain":[-4.79,4],"nice":false,"zero":false},"axis":{"orient":"bottom","zindex":2,"values":[-4,-3.5,-3,-2.5,-2,-1.5,-1,-0.5,0,0.5,1,1.5,2,2.5,3,3.5,4],"format":"d","labelExpr":"datum.value % 2 === 0 ? datum.label : ''","tickSize":-5,"tickColor":"white","tickWidth":2,"labelPadding":14,"title":"rₓᵧ (fm)","titlePadding":5,"titleX":140}},
     "y":{"field":"y","type":"quantitative","scale":{"domain":[-4,4],"nice":false,"zero":false},"axis":{"orient":"left","zindex":2,"offset":-23,"values":[-4,-3.5,-3,-2.5,-2,-1.5,-1,-0.5,0,0.5,1,1.5,2,2.5,3,3.5,4],"format":"d","labelExpr":"datum.value % 2 === 0 ? datum.label : ''","tickSize":-5,"tickColor":"white","tickWidth":2,"labelPadding":14,"title":"z (fm)","titlePadding":6}},
     "y2":{"field":"y2"},
     "color":{"field":"l","type":"ordinal","scale":{"domain":[11,12,13,14,15,16,17,18,19],"range":["#8b171b","#a61c22","#df412a","#ee8c23","#f29c21","#f5a91f","#f7b61d","#f9c41b","#fcd21a"]},"legend":null},
     "detail":{"field":"p"},
     "strokeOpacity":{"condition":{"test":"datum.l >= 14","value":0.5},"value":0}}},
   {"data":{"name":"frameSq"},"mark":{"type":"rule","color":"white","strokeWidth":4},"encoding":{"x2":{"field":"x2"},"y2":{"field":"y2"}}},
   {"data":{"name":"frameSq"},"mark":{"type":"rule","color":"#777","strokeWidth":1.2},"encoding":{"x2":{"field":"x2"},"y2":{"field":"y2"}}},
   {"data":{"values":[{"x":3.31,"y":2.8,"t":"²⁰Ne"},{"x":3.31,"y":1.87,"t":"0⁺"}]},"mark":{"type":"text","align":"right","fontSize":21,"fontWeight":"bold","color":"white"},
    "encoding":{"text":{"field":"t"},
     "x":{"field":"x","type":"quantitative","scale":{"domain":[-4.79,4],"nice":false,"zero":false},"axis":{"orient":"top","zindex":2,"values":[-4,-3.5,-3,-2.5,-2,-1.5,-1,-0.5,0,0.5,1,1.5,2,2.5,3,3.5,4],"labels":false,"tickSize":-5,"tickColor":"white","tickWidth":2,"title":null}},
     "y":{"field":"y","type":"quantitative","scale":{"domain":[-4,4],"nice":false,"zero":false},"axis":{"orient":"right","zindex":2,"values":[-4,-3.5,-3,-2.5,-2,-1.5,-1,-0.5,0,0.5,1,1.5,2,2.5,3,3.5,4],"labels":false,"tickSize":-5,"tickColor":"white","tickWidth":2,"title":null}}}}
  ]},
 {"width":76,"height":1,"data":{"values":[{"t":""}]},"mark":{"type":"text"},"encoding":{"text":{"field":"t"}}},
 {"width":254,"height":233,
  "resolve":{"axis":{"x":"independent","y":"independent"}},
  "encoding":{"x":{"field":"x","type":"quantitative","scale":{"domain":[-4.721,4],"nice":false,"zero":false},"axis":null},
              "y":{"field":"y","type":"quantitative","scale":{"domain":[-4,4],"nice":false,"zero":false},"axis":null}},
  "layer":[
   {"data":{"name":"sq"},"mark":{"type":"rect","color":"#7b1418","opacity":1},"encoding":{"x2":{"field":"x2"},"y2":{"field":"y2"}}},
   {"data":{"name":"contF"},"mark":{"type":"area","clip":true,"interpolate":"monotone","stroke":"#8a5a2a","strokeWidth":0.6,"opacity":1},
    "encoding":{
     "x":{"field":"x","type":"quantitative","scale":{"domain":[-4.721,4],"nice":false,"zero":false},"axis":{"orient":"bottom","zindex":2,"values":[-4,-3.5,-3,-2.5,-2,-1.5,-1,-0.5,0,0.5,1,1.5,2,2.5,3,3.5,4],"format":"d","labelExpr":"datum.value % 2 === 0 ? datum.label : ''","tickSize":-5,"tickColor":"white","tickWidth":2,"labelPadding":14,"title":"rₓᵧ (fm)","titlePadding":5,"titleX":138}},
     "y":{"field":"y","type":"quantitative","scale":{"domain":[-4,4],"nice":false,"zero":false},"axis":{"orient":"left","zindex":2,"offset":-21,"values":[-4,-3.5,-3,-2.5,-2,-1.5,-1,-0.5,0,0.5,1,1.5,2,2.5,3,3.5,4],"format":"d","labelExpr":"datum.value % 2 === 0 ? datum.label : ''","tickSize":-5,"tickColor":"white","tickWidth":2,"labelPadding":14,"title":null}},
     "y2":{"field":"y2"},
     "color":{"field":"l","type":"ordinal","scale":{"domain":[11,12,13,14,15,16,17,18,19,20,21],"range":["#921a1f","#c2232a","#df4129","#ec6327","#f07b26","#f38c26","#f59b24","#f7aa22","#f9b91e","#fbc61b","#fcd01a"]},"legend":null},
     "detail":{"field":"p"},
     "strokeOpacity":{"condition":{"test":"datum.l >= 15","value":0.5},"value":0}}},
   {"data":{"name":"frameSq"},"mark":{"type":"rule","color":"white","strokeWidth":4},"encoding":{"x2":{"field":"x2"},"y2":{"field":"y2"}}},
   {"data":{"name":"frameSq"},"mark":{"type":"rule","color":"#777","strokeWidth":1.2},"encoding":{"x2":{"field":"x2"},"y2":{"field":"y2"}}},
   {"data":{"values":[{"x":3.19,"y":2.85,"t":"⁴⁸Ti"},{"x":3.19,"y":1.84,"t":"0⁺"}]},"mark":{"type":"text","align":"right","fontSize":21,"fontWeight":"bold","color":"white"},
    "encoding":{"text":{"field":"t"},
     "x":{"field":"x","type":"quantitative","scale":{"domain":[-4.721,4],"nice":false,"zero":false},"axis":{"orient":"top","zindex":2,"values":[-4,-3.5,-3,-2.5,-2,-1.5,-1,-0.5,0,0.5,1,1.5,2,2.5,3,3.5,4],"labels":false,"tickSize":-5,"tickColor":"white","tickWidth":2,"title":null}},
     "y":{"field":"y","type":"quantitative","scale":{"domain":[-4,4],"nice":false,"zero":false},"axis":{"orient":"right","zindex":2,"values":[-4,-3.5,-3,-2.5,-2,-1.5,-1,-0.5,0,0.5,1,1.5,2,2.5,3,3.5,4],"labels":false,"tickSize":-5,"tickColor":"white","tickWidth":2,"title":null}}}}
  ]}
]
}
